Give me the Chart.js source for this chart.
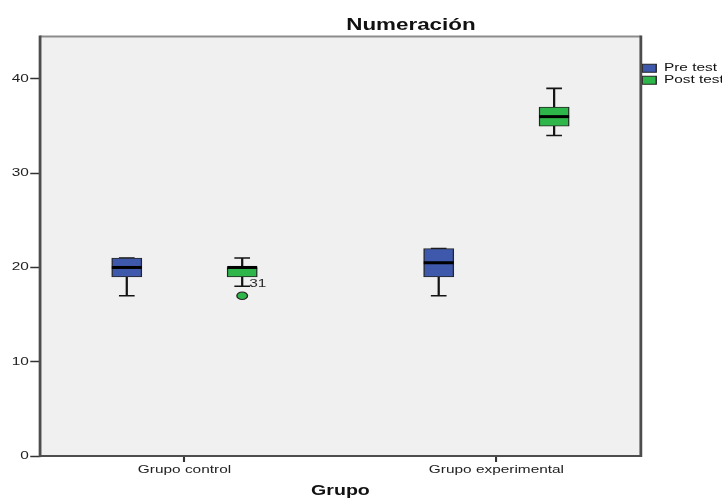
<!DOCTYPE html>
<html>
<head>
<meta charset="utf-8">
<title>Numeración</title>
<script src="https://cdn.jsdelivr.net/npm/chart.js@4.4.1/dist/chart.umd.min.js"></script>
<style>
  html, body { margin: 0; padding: 0; background: #ffffff; }
  canvas { display: block; }
</style>
</head>
<body>
<canvas id="chart" width="516" height="502"></canvas>
<script>
// ---- data -------------------------------------------------------------
const categories = ['Grupo control', 'Grupo experimental'];
const seriesNames = ['Pre test', 'Post test'];

// five-number summaries per group (whisker low, Q1, median, Q3, whisker high)
const preMin    = [17, 17];
const preQ1     = [19, 19];
const preMedian = [20, 20.5];
const preQ3     = [21, 22];
const preMax    = [21, 22];

const postMin    = [18, 34];
const postQ1     = [19, 35];
const postMedian = [20, 36];
const postQ3     = [20, 37];
const postMax    = [21, 39];

// outliers of the post test: group index, value, case number
const postOutlierGroup = [0];
const postOutlierValue = [17];
const postOutlierCase  = ['31'];

const yTicks = [0, 10, 20, 30, 40];
const yMax = 44.5;

// ---- styling ----------------------------------------------------------
const STRETCH = 722 / 516;        // the figure is drawn wide, as in the original export
const BOX_OFFSET = 0.185;         // shift of each box from its group centre (x units)
const BOX_WIDTH = 21.4;           // px
const CAP_HALF = 5.6;             // px
const EDGE = '#262626';
const COLORS = ['#3e58ac', '#2fb64a'];
const FONT = '"Liberation Sans", Arial, sans-serif';

Chart.defaults.font.family = FONT;
Chart.defaults.color = '#1a1a1a';

const series = [
  { name: seriesNames[0], color: COLORS[0], offset: -BOX_OFFSET,
    min: preMin, q1: preQ1, med: preMedian, q3: preQ3, max: preMax },
  { name: seriesNames[1], color: COLORS[1], offset: BOX_OFFSET,
    min: postMin, q1: postQ1, med: postMedian, q3: postQ3, max: postMax }
];

const boxDatasets = series.map(s => ({
  type: 'bar',
  label: s.name,
  data: categories.map((c, i) => ({ x: i + s.offset, y: [s.q1[i], s.q3[i]] })),
  backgroundColor: s.color,
  borderColor: EDGE,
  borderWidth: 1,
  borderSkipped: false,
  barThickness: BOX_WIDTH,
  grouped: false
}));

const outlierDataset = {
  type: 'line',
  label: '',
  showLine: false,
  data: postOutlierGroup.map((g, k) => ({ x: g + BOX_OFFSET, y: postOutlierValue[k] })),
  pointRadius: 3.8,
  pointBackgroundColor: COLORS[1],
  pointBorderColor: EDGE,
  pointBorderWidth: 1
};

// whiskers, medians, frame, outlier labels and heading
const boxplotPlugin = {
  id: 'boxplot',
  beforeDraw(chart) {
    const c = chart.canvas;
    const w = Math.round(chart.width * STRETCH);
    if (c.width !== w) {
      c.width = w;
      c.style.width = w + 'px';
      c.style.height = chart.height + 'px';
    }
    const ctx = chart.ctx;
    ctx.setTransform(STRETCH, 0, 0, 1, 0, 0);
    const a = chart.chartArea;
    ctx.save();
    ctx.fillStyle = '#f0f0f0';
    ctx.fillRect(a.left, a.top, a.right - a.left, a.bottom - a.top);
    ctx.restore();
  },
  beforeDatasetsDraw(chart) {
    const ctx = chart.ctx, xs = chart.scales.x, ys = chart.scales.y;
    ctx.save();
    ctx.strokeStyle = '#141414';
    ctx.lineWidth = 1.6;
    series.forEach(s => {
      categories.forEach((c, i) => {
        const x = xs.getPixelForValue(i + s.offset);
        const yMin = ys.getPixelForValue(s.min[i]);
        const yMaxP = ys.getPixelForValue(s.max[i]);
        ctx.beginPath();
        ctx.moveTo(x, ys.getPixelForValue(s.q3[i]));
        ctx.lineTo(x, yMaxP);
        ctx.moveTo(x, ys.getPixelForValue(s.q1[i]));
        ctx.lineTo(x, yMin);
        ctx.moveTo(x - CAP_HALF, yMaxP);
        ctx.lineTo(x + CAP_HALF, yMaxP);
        ctx.moveTo(x - CAP_HALF, yMin);
        ctx.lineTo(x + CAP_HALF, yMin);
        ctx.stroke();
      });
    });
    ctx.restore();
  },
  afterDatasetsDraw(chart) {
    const ctx = chart.ctx, xs = chart.scales.x, ys = chart.scales.y;
    ctx.save();
    ctx.strokeStyle = '#000000';
    ctx.lineWidth = 3;
    series.forEach(s => {
      categories.forEach((c, i) => {
        const x = xs.getPixelForValue(i + s.offset);
        const y = ys.getPixelForValue(s.med[i]);
        ctx.beginPath();
        ctx.moveTo(x - BOX_WIDTH / 2, y);
        ctx.lineTo(x + BOX_WIDTH / 2, y);
        ctx.stroke();
      });
    });
    ctx.fillStyle = '#2a2a2a';
    ctx.font = '11px ' + FONT;
    ctx.textAlign = 'left';
    ctx.textBaseline = 'middle';
    postOutlierGroup.forEach((g, k) => {
      const x = xs.getPixelForValue(g + BOX_OFFSET);
      const y = ys.getPixelForValue(postOutlierValue[k]);
      ctx.fillText(postOutlierCase[k], x + 5, y - 12);
    });
    ctx.restore();
  },
  afterDraw(chart) {
    const ctx = chart.ctx, a = chart.chartArea;
    ctx.save();
    ctx.lineWidth = 2;
    ctx.strokeStyle = '#8c8c8c';
    ctx.beginPath();
    ctx.moveTo(a.left, a.top);
    ctx.lineTo(a.right, a.top);
    ctx.stroke();
    ctx.strokeStyle = '#4d4d4d';
    ctx.beginPath();
    ctx.moveTo(a.left, a.top - 1);
    ctx.lineTo(a.left, a.bottom);
    ctx.lineTo(a.right, a.bottom);
    ctx.lineTo(a.right, a.top - 1);
    ctx.stroke();
    ctx.fillStyle = '#111111';
    ctx.font = 'bold 16px ' + FONT;
    ctx.textAlign = 'center';
    ctx.textBaseline = 'alphabetic';
    ctx.fillText('Numeración', 293.7, 30);
    ctx.restore();
  }
};

new Chart(document.getElementById('chart'), {
  type: 'bar',
  data: { datasets: [...boxDatasets, outlierDataset] },
  options: {
    responsive: false,
    animation: false,
    devicePixelRatio: 1,
    layout: { padding: { left: 7.4, top: 36.5, right: 0, bottom: 0 } },
    plugins: {
      title: { display: false },
      tooltip: { enabled: false },
      legend: {
        position: 'right',
        align: 'start',
        fullSize: false,
        maxWidth: 58,
        title: { display: true, text: '', font: { size: 10 }, padding: { top: 13.3, bottom: 0 } },
        labels: {
          boxWidth: 10,
          boxHeight: 8,
          padding: 1,
          color: '#111111',
          font: { size: 11 },
          filter: item => item.datasetIndex < series.length
        }
      }
    },
    scales: {
      x: {
        type: 'linear',
        min: -0.463,
        max: 1.463,
        offset: false,
        grid: { display: true, offset: false, drawOnChartArea: false, drawTicks: true,
                tickLength: 6, tickWidth: 1.5, tickColor: '#333333' },
        border: { display: false },
        afterBuildTicks: scale => { scale.ticks = categories.map((c, i) => ({ value: i })); },
        ticks: {
          autoSkip: false, maxRotation: 0, padding: 1, color: '#222222',
          font: { size: 11 },
          callback: v => categories[v]
        },
        title: {
          display: true, text: 'Grupo', color: '#111111',
          font: { size: 14, weight: 'bold' },
          padding: { top: 6, bottom: 2 }
        }
      },
      y: {
        min: 0,
        max: yMax,
        grid: { drawOnChartArea: false, drawTicks: true, tickLength: 7, tickWidth: 1.5, tickColor: '#333333' },
        border: { display: false },
        afterBuildTicks: scale => { scale.ticks = yTicks.map(v => ({ value: v })); },
        ticks: { padding: 1, color: '#222222', font: { size: 11 } }
      }
    }
  },
  plugins: [boxplotPlugin]
});
</script>
</body>
</html>
